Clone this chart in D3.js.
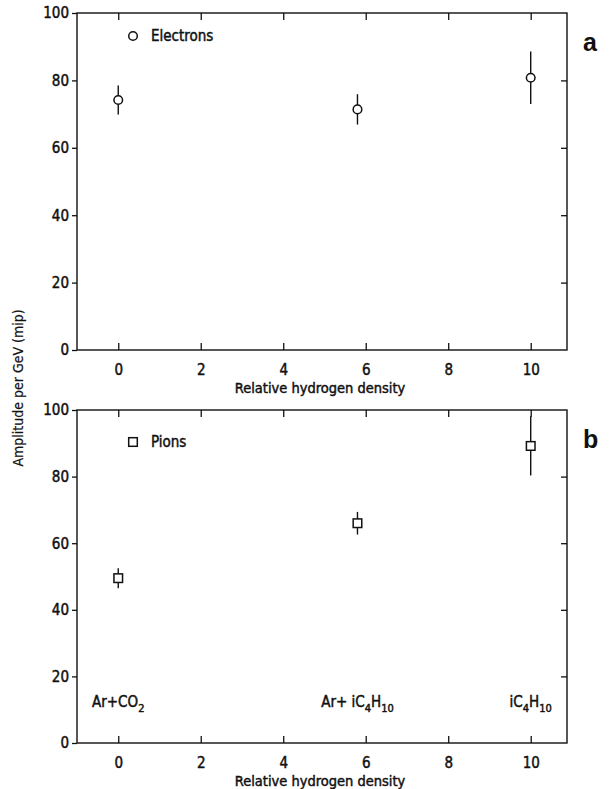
<!DOCTYPE html>
<html>
<head>
<meta charset="utf-8">
<script src="https://cdn.jsdelivr.net/npm/d3@7"></script>
<style>
  body { margin: 0; background: #fff; }
  text { font-family: "DejaVu Sans Condensed", "DejaVu Sans", sans-serif; fill: #111; stroke: #111; stroke-width: 0.45px; }
</style>
</head>
<body>
<svg id="chart" width="616" height="789"></svg>
<script>
// data
var densities = [0, 5.8, 10];
var electronAmp = [74.2, 71.4, 80.8];
var electronErr = [4.3, 4.5, 7.8];
var pionAmp = [49.5, 66, 89.2];
var pionErr = [3.0, 3.4, 8.9];
var xTicks = [0, 2, 4, 6, 8, 10];
var yTicks = [0, 20, 40, 60, 80, 100];
var gasNames = [
  { x: 0, parts: [['Ar+CO', 0], ['2', 1]] },
  { x: 5.8, parts: [['Ar+ iC', 0], ['4', 1], ['H', 0], ['10', 1]] },
  { x: 10, parts: [['iC', 0], ['4', 1], ['H', 0], ['10', 1]] }
];

var svg = d3.select('#chart');
var left = 77, right = 567;

var x = d3.scaleLinear().domain([-1, 10.88]).range([left, right]);

var panel = function (top, bottom, amp, err, marker, legend, legendDy, letter) {
  var y = d3.scaleLinear().domain([0, 100]).range([bottom, top]);
  var g = svg.append('g');

  // frame
  g.append('rect')
      .attr('x', left).attr('y', top)
      .attr('width', right - left).attr('height', bottom - top)
      .attr('fill', 'none').attr('stroke', '#111').attr('stroke-width', 1.4);

  // left axis, ticks outward
  g.append('g')
      .attr('transform', 'translate(' + left + ',0)')
      .call(d3.axisLeft(y).tickValues(yTicks).tickSize(5).tickPadding(3))
      .call(function (a) {
        a.select('.domain').remove();
        a.selectAll('text').style('font-size', '15px');
      });

  // right axis, ticks inward
  g.append('g')
      .attr('transform', 'translate(' + right + ',0)')
      .call(d3.axisLeft(y).tickValues([20, 40, 60, 80]).tickSize(6).tickFormat(''))
      .call(function (a) { a.select('.domain').remove(); });

  // bottom axis, ticks inward, labels below
  g.append('g')
      .attr('transform', 'translate(0,' + bottom + ')')
      .call(d3.axisBottom(x).tickValues(xTicks).tickSize(-7).tickPadding(14))
      .call(function (a) {
        a.select('.domain').remove();
        a.selectAll('text').style('font-size', '15px');
      });

  // top axis, ticks inward
  g.append('g')
      .attr('transform', 'translate(0,' + top + ')')
      .call(d3.axisTop(x).tickValues(xTicks).tickSize(-7).tickFormat(''))
      .call(function (a) { a.select('.domain').remove(); });

  g.selectAll('.tick line').attr('stroke', '#111').attr('stroke-width', 1.3);

  // error bars
  g.selectAll('line.err')
    .data(densities)
    .join('line')
      .attr('class', 'err')
      .attr('x1', function (d) { return x(d); })
      .attr('x2', function (d) { return x(d); })
      .attr('y1', function (d, i) { return y(amp[i] + err[i]); })
      .attr('y2', function (d, i) { return y(amp[i] - err[i]); })
      .attr('stroke', '#111').attr('stroke-width', 1.4);

  var drawMarker = function (sel) {
    if (marker === 'circle') {
      sel.append('circle').attr('r', 4.3);
    } else {
      sel.append('rect').attr('x', -4.3).attr('y', -4.3).attr('width', 8.6).attr('height', 8.6);
    }
    sel.selectAll('circle, rect')
        .attr('fill', '#fff').attr('stroke', '#111').attr('stroke-width', 1.5);
  };

  g.selectAll('g.pt')
    .data(densities)
    .join('g')
      .attr('class', 'pt')
      .attr('transform', function (d, i) { return 'translate(' + x(d) + ',' + y(amp[i]) + ')'; })
      .each(function () { drawMarker(d3.select(this)); });

  // legend
  var lg = g.append('g').attr('transform', 'translate(133,' + (top + legendDy) + ')');
  drawMarker(lg);
  lg.append('text').attr('x', 18).attr('y', 5).style('font-size', '15px').text(legend);

  // panel letter
  g.append('text')
      .attr('x', 583).attr('y', top + 38)
      .style('font-family', 'Liberation Sans, Arial, sans-serif')
      .style('font-weight', 'bold').style('stroke-width', 0)
      .style('font-size', '25px')
      .text(letter);

  g.append('text')
      .attr('x', 320).attr('y', bottom + 43)
      .attr('text-anchor', 'middle')
      .style('font-size', '14.5px')
      .text('Relative hydrogen density');

  return y;
};

panel(13, 350, electronAmp, electronErr, 'circle', 'Electrons', 23, 'a');
var yb = panel(410, 743, pionAmp, pionErr, 'square', 'Pions', 32, 'b');

// gas mixture labels in panel b
var gl = svg.append('g');
gasNames.forEach(function (gname) {
  var t = gl.append('text')
      .attr('x', x(gname.x)).attr('y', yb(9.2))
      .attr('text-anchor', 'middle')
      .style('font-size', '15px');
  gname.parts.forEach(function (p) {
    t.append('tspan')
        .attr('dy', p[1] ? 5 : (t.selectAll('tspan').size() > 0 ? -5 : 0))
        .style('font-size', p[1] ? '11px' : '15px')
        .text(p[0]);
  });
});

// shared y title
svg.append('text')
    .attr('transform', 'translate(23,388) rotate(-90)')
    .attr('text-anchor', 'middle')
    .style('font-size', '14px')
    .style('stroke-width', '0.2px')
    .text('Amplitude per GeV (mip)');
</script>
</body>
</html>
